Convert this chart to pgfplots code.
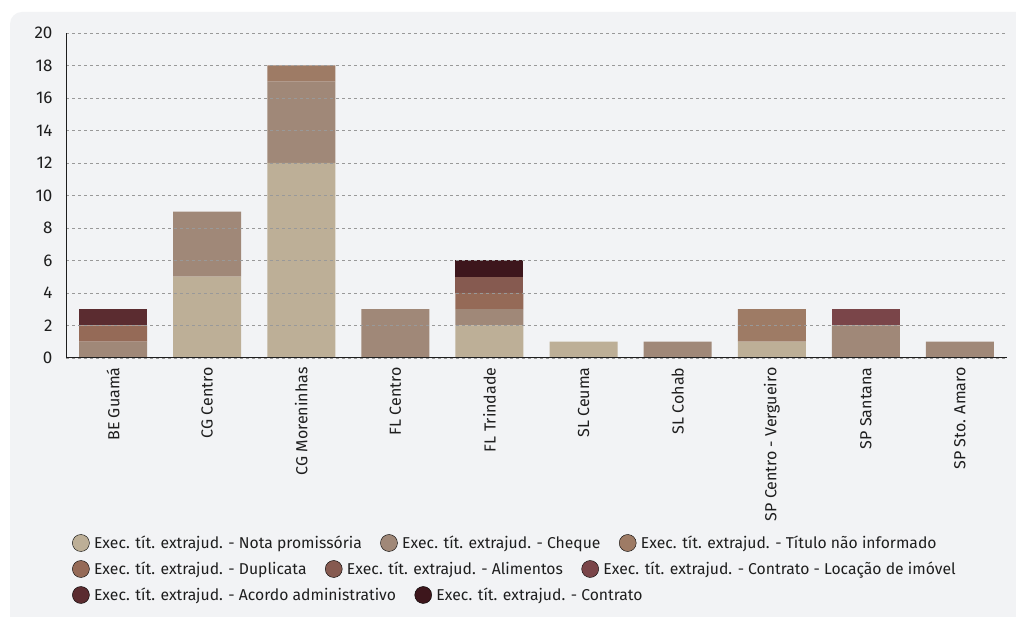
\documentclass[border=0pt]{standalone}
\usepackage{fontspec}
\setmainfont{Fira Sans}
\usepackage{pgfplots}
\pgfplotsset{compat=1.18}
\definecolor{c1}{HTML}{BDAF97}
\definecolor{c2}{HTML}{A08878}
\definecolor{c3}{HTML}{9E7B65}
\definecolor{c4}{HTML}{956A57}
\definecolor{c5}{HTML}{865A50}
\definecolor{c6}{HTML}{7A4549}
\definecolor{c7}{HTML}{5B2C30}
\definecolor{c8}{HTML}{3D161C}
\definecolor{panel}{HTML}{F2F3F5}
\definecolor{txt}{HTML}{1E1E1E}
\pgfplotsset{
  dotlegend/.style={
    legend image code/.code={\fill[##1] (0pt,0pt) circle (8.5pt); \path (11pt,0pt);},
    legend columns=-1,
    legend style={at={(0,0)}, anchor=west, draw=none, fill=none,
      font=\fontsize{15.7}{18}\selectfont\color{txt},
      /tikz/every even column/.append style={column sep=16.5pt},
      inner sep=0pt},
  },
  legax/.style={hide axis, scale only axis, width=1pt, height=1pt,
    xmin=0, xmax=1, ymin=0, ymax=1, anchor=south west, dotlegend},
}
\begin{document}
\begin{tikzpicture}[x=1pt,y=1pt]
\useasboundingbox (0,0) rectangle (1016,617);
\fill[white] (0,0) rectangle (1016,617);
\fill[panel, rounded corners=12pt] (10,-30) rectangle (1050,605);
\begin{axis}[
  at={(66pt,259pt)}, anchor=south west,
  scale only axis, width=941pt, height=325pt,
  xmin=-0.5, xmax=9.5, ymin=0, ymax=20,
  ybar stacked, bar width=68pt,
  axis x line*=bottom, axis y line*=left,
  axis line style={txt, line width=1pt},
  ytick={0,2,...,20},
  xtick={0,...,9},
  xticklabels={BE Guamá, CG Centro, CG Moreninhas, FL Centro, FL Trindade, SL Ceuma, SL Cohab, SP Centro - Vergueiro, SP Santana, SP Sto. Amaro},
  x tick label style={rotate=90, anchor=east, font=\fontsize{16}{18}\selectfont, text=txt},
  y tick label style={font=\fontsize{17}{19}\selectfont, text=txt},
  /pgf/number format/assume math mode=true,
  xticklabel shift=6pt, yticklabel shift=10pt,
  major tick length=0pt,
  ymajorgrids, grid style={dashed, gray!80, line width=0.6pt},
  axis on top,
  every axis plot/.append style={draw=none},
]
\addplot[fill=c1] coordinates {(0,0) (1,5) (2,12) (3,0) (4,2) (5,1) (6,0) (7,1) (8,0) (9,0)};
\addplot[fill=c2] coordinates {(0,1) (1,4) (2,5) (3,3) (4,1) (5,0) (6,1) (7,0) (8,2) (9,1)};
\addplot[fill=c3] coordinates {(0,0) (1,0) (2,1) (3,0) (4,0) (5,0) (6,0) (7,2) (8,0) (9,0)};
\addplot[fill=c4] coordinates {(0,1) (1,0) (2,0) (3,0) (4,1) (5,0) (6,0) (7,0) (8,0) (9,0)};
\addplot[fill=c5] coordinates {(0,0) (1,0) (2,0) (3,0) (4,1) (5,0) (6,0) (7,0) (8,0) (9,0)};
\addplot[fill=c6] coordinates {(0,0) (1,0) (2,0) (3,0) (4,0) (5,0) (6,0) (7,0) (8,1) (9,0)};
\addplot[fill=c7] coordinates {(0,1) (1,0) (2,0) (3,0) (4,0) (5,0) (6,0) (7,0) (8,0) (9,0)};
\addplot[fill=c8] coordinates {(0,0) (1,0) (2,0) (3,0) (4,1) (5,0) (6,0) (7,0) (8,0) (9,0)};
\end{axis}
\begin{axis}[legax, at={(72pt,74pt)}]
\addlegendimage{fill=c1}\addlegendentry{Exec. tít. extrajud. - Nota promissória}
\addlegendimage{fill=c2}\addlegendentry{Exec. tít. extrajud. - Cheque}
\addlegendimage{fill=c3}\addlegendentry{Exec. tít. extrajud. - Título não informado}
\end{axis}
\begin{axis}[legax, at={(72pt,48pt)}]
\addlegendimage{fill=c4}\addlegendentry{Exec. tít. extrajud. - Duplicata}
\addlegendimage{fill=c5}\addlegendentry{Exec. tít. extrajud. - Alimentos}
\addlegendimage{fill=c6}\addlegendentry{Exec. tít. extrajud. - Contrato - Locação de imóvel}
\end{axis}
\begin{axis}[legax, at={(72pt,22pt)}]
\addlegendimage{fill=c7}\addlegendentry{Exec. tít. extrajud. - Acordo administrativo}
\addlegendimage{fill=c8}\addlegendentry{Exec. tít. extrajud. - Contrato}
\end{axis}
\end{tikzpicture}
\end{document}
